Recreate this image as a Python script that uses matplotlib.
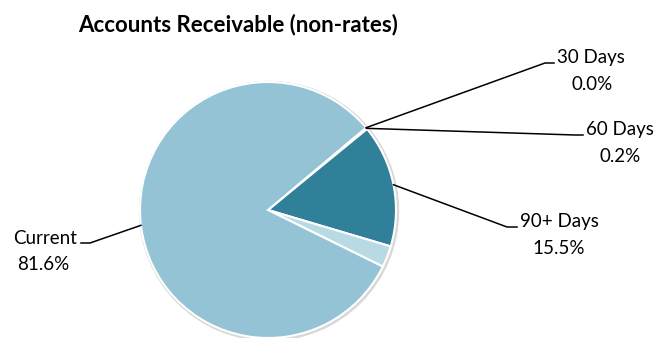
import numpy as np
import matplotlib.pyplot as plt

categories = ['30 Days', '60 Days', '90+ Days', '', 'Current']
values = [0.0, 0.2, 15.5, 2.7, 81.6]
colors = ['#93C4D4', '#31849B', '#31809A', '#B7DAE5', '#93C3D4']

# elbow point, end of horizontal stub, centre x of percent line (pixels from top-left)
label_pos = {
    '30 Days': ((545, 63), 554, 592),
    '60 Days': ((575, 135), 583, 620),
    '90+ Days': ((507, 227), 517, 559),
    'Current': ((90, 243), 81, 43),
}

W, H = 659, 338
fig = plt.figure(figsize=(W / 100, H / 100), dpi=100)
ax = fig.add_axes([0, 0, 1, 1])

plt.rcParams['font.family'] = ['Lato', 'DejaVu Sans']

cx, cy, r = 268, H - 210, 128
# soft shadow ring
ax.add_patch(plt.Circle((cx + 1, cy - 1), r + 1.5, color='#d8d8d8', zorder=0))
wedges, _ = ax.pie(values, colors=colors, startangle=40, counterclock=False,
                   center=(cx, cy), radius=r, frame=True,
                   wedgeprops=dict(edgecolor='white', linewidth=1.5))
ax.set_xlim(0, W)
ax.set_ylim(0, H)
ax.set_aspect('equal')
ax.axis('off')

for w, name, v in zip(wedges, categories, values):
    if name not in label_pos:
        continue
    (ex, ey), hx, tx = label_pos[name]
    mid = np.deg2rad((w.theta1 + w.theta2) / 2)
    sx, sy = cx + r * np.cos(mid), cy + r * np.sin(mid)
    ey = H - ey
    if hx > ex:
        tx0, align = hx + 3, 'left'
    else:
        tx0, align = hx - 4, 'right'
    ax.plot([sx, ex, hx], [sy, ey, ey], color='black', lw=1.1, zorder=3)
    ax.text(tx0, ey + 5, name, ha=align, va='center', fontsize=13.5, color='black')
    ax.text(tx, ey - 21, f'{v:.1f}%', ha='center', va='center',
            fontsize=13.5, color='black')

ax.text(238, H - 25, 'Accounts Receivable (non-rates)', ha='center', va='center',
        fontsize=16, fontweight='bold', color='black')

fig.savefig('out.png', dpi=100)
